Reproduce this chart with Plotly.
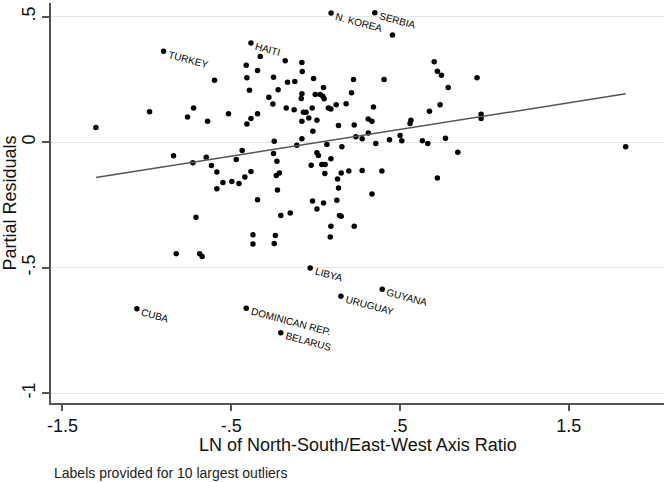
import plotly.graph_objects as go

# partial residuals vs LN axis ratio
x_vals = [
    -1.302, -0.984, -0.901, -0.842, -0.759, -0.723, -0.727, -0.709, -0.640, -0.648,
    -0.617, -0.599, -0.585, -0.585, -0.549, -0.516, -0.496, -0.470, -0.454, -0.435,
    -0.419, -0.411, -0.407, -0.407, -0.392, -0.383, -0.383, -0.383, -0.371, -0.371,
    -0.344, -0.344, -0.344, -0.328, -0.277, -0.249, -0.253, -0.245, -0.249, -0.229,
    -0.233, -0.214, -0.222, -0.226, -0.238, -0.245, -0.206, -0.180, -0.174, -0.166,
    -0.150, -0.123, -0.127, -0.111, -0.081, -0.079, -0.081, -0.085, -0.072, -0.056,
    -0.081, -0.081, -0.040, -0.020, -0.012, -0.016, 0.008, 0.008, 0.017, -0.026,
    0.037, 0.057, 0.055, 0.091, 0.067, 0.047, -0.002, 0.027, 0.043, 0.051,
    0.076, 0.091, 0.122, 0.136, -0.018, 0.008, 0.047, 0.126, 0.091, 0.087,
    0.130, 0.136, 0.142, 0.092, 0.351, 0.456, 0.703, 0.722, 0.746, 0.786,
    0.957, 0.225, 0.406, 0.213, 0.181, 0.343, 0.675, 0.738, 0.229, 0.312,
    0.334, 0.565, 0.560, 0.981, 0.981, 0.313, 0.239, 0.276, 0.501, 0.438,
    0.511, 0.357, 0.633, 0.665, 0.770, 0.156, 0.843, 1.838, 0.152, 0.197,
    0.276, 0.393, 0.334, 0.722, 0.152, 0.229, -0.826, -0.687, -0.672, -0.032,
    -1.059, -0.411, -0.206, 0.150, 0.395,
]
y_vals = [
    0.059, 0.122, 0.363, -0.054, 0.101, 0.137, -0.082, -0.299, 0.084, -0.060,
    -0.093, 0.247, -0.118, -0.185, -0.160, 0.114, -0.156, -0.069, -0.164, -0.033,
    -0.138, 0.307, 0.257, 0.073, 0.207, 0.095, -0.116, 0.396, -0.369, -0.405,
    0.286, 0.114, -0.229, 0.342, 0.179, 0.259, 0.153, 0.004, -0.045, -0.076,
    -0.132, -0.122, 0.209, -0.190, -0.372, -0.403, -0.292, 0.325, 0.137, 0.239,
    -0.282, 0.242, 0.130, -0.012, 0.318, 0.282, 0.193, 0.174, 0.120, 0.120,
    0.084, 0.014, 0.097, 0.137, 0.254, 0.044, 0.088, -0.042, -0.053, -0.092,
    -0.089, -0.089, -0.124, -0.066, -0.009, 0.218, 0.190, 0.190, 0.183, 0.173,
    0.137, 0.133, 0.150, 0.067, -0.234, -0.266, -0.242, -0.231, -0.335, -0.377,
    -0.146, -0.182, -0.292, 0.515, 0.516, 0.427, 0.321, 0.283, 0.267, 0.218,
    0.257, 0.250, 0.250, 0.197, 0.154, 0.141, 0.124, 0.150, 0.069, 0.093,
    0.084, 0.088, 0.075, 0.112, 0.095, 0.037, 0.022, 0.014, 0.027, 0.010,
    0.006, -0.005, 0.006, -0.005, 0.016, -0.018, -0.040, -0.018, -0.122, -0.114,
    -0.112, -0.114, -0.206, -0.142, -0.295, -0.335, -0.444, -0.444, -0.455, -0.501,
    -0.663, -0.661, -0.759, -0.614, -0.586,
]

# labelled outliers
out_names = ["TURKEY", "HAITI", "N. KOREA", "SERBIA", "LIBYA",
             "CUBA", "DOMINICAN REP.", "BELARUS", "URUGUAY", "GUYANA"]
out_x = [-0.901, -0.383, 0.092, 0.351, -0.032, -1.059, -0.411, -0.206, 0.150, 0.395]
out_y = [0.363, 0.396, 0.515, 0.516, -0.501, -0.663, -0.661, -0.759, -0.614, -0.586]

# linear fit line
fit_x = [-1.302, 1.838]
fit_y = [-0.140, 0.193]

x_ticks = [-1.5, -0.5, 0.5, 1.5]
x_tick_text = ["-1.5", "-.5", ".5", "1.5"]
y_ticks = [-1, -0.5, 0, 0.5]
y_tick_text = ["-1", "-.5", "0", ".5"]

FONT = "Liberation Sans, Arial, Helvetica, sans-serif"

fig = go.Figure()

fig.add_trace(go.Scatter(
    x=x_vals, y=y_vals,
    mode="markers",
    marker=dict(color="black", size=5.5),
    showlegend=False,
    hoverinfo="skip",
))

fig.add_trace(go.Scatter(
    x=fit_x, y=fit_y,
    mode="lines",
    line=dict(color="#555555", width=1.5),
    showlegend=False,
    hoverinfo="skip",
))

for name, ox, oy in zip(out_names, out_x, out_y):
    fig.add_annotation(
        x=ox, y=oy, xref="x", yref="y",
        text=name,
        showarrow=False,
        textangle=15,
        xanchor="left", yanchor="top",
        xshift=1, yshift=5,
        font=dict(family=FONT, size=10, color="#000000"),
    )

# x axis title, placed by hand to sit close under the tick labels
fig.add_annotation(
    x=0.501, y=-0.104, xref="paper", yref="paper",
    text="LN of North-South/East-West Axis Ratio",
    showarrow=False,
    xanchor="center", yanchor="middle",
    font=dict(family=FONT, size=18, color="#111111"),
)

fig.add_annotation(
    x=0, y=-0.174, xref="paper", yref="paper",
    text="Labels provided for 10 largest outliers",
    showarrow=False,
    xanchor="left", yanchor="middle",
    xshift=1,
    font=dict(family=FONT, size=14, color="#222222"),
)

fig.update_layout(
    width=667, height=483,
    paper_bgcolor="white",
    plot_bgcolor="white",
    margin=dict(l=51, r=3, t=3, b=80),
    font=dict(family=FONT, color="#111111"),
)

fig.update_xaxes(
    range=[-1.568, 2.065],
    tickvals=x_ticks, ticktext=x_tick_text,
    tickfont=dict(size=18),
    ticks="outside", ticklen=6, tickcolor="#555555", tickwidth=1.5,
    showline=True, linecolor="#555555", linewidth=1.5,
    showgrid=False, zeroline=False,
)

fig.update_yaxes(
    range=[-1.039, 0.555],
    tickvals=y_ticks, ticktext=y_tick_text,
    tickangle=-90,
    tickfont=dict(size=18),
    ticks="outside", ticklen=7, tickcolor="#555555", tickwidth=1.5,
    showline=True, linecolor="#555555", linewidth=1.5,
    showgrid=True, gridcolor="#e6e6e6", gridwidth=1,
    zeroline=False,
    title=dict(text="Partial Residuals", font=dict(size=18), standoff=2),
)

# drop the default page margin so the figure sits at the window's corner
fig.write_html("out.html", config={"displayModeBar": False},
               post_script="document.body.style.margin='0';")
